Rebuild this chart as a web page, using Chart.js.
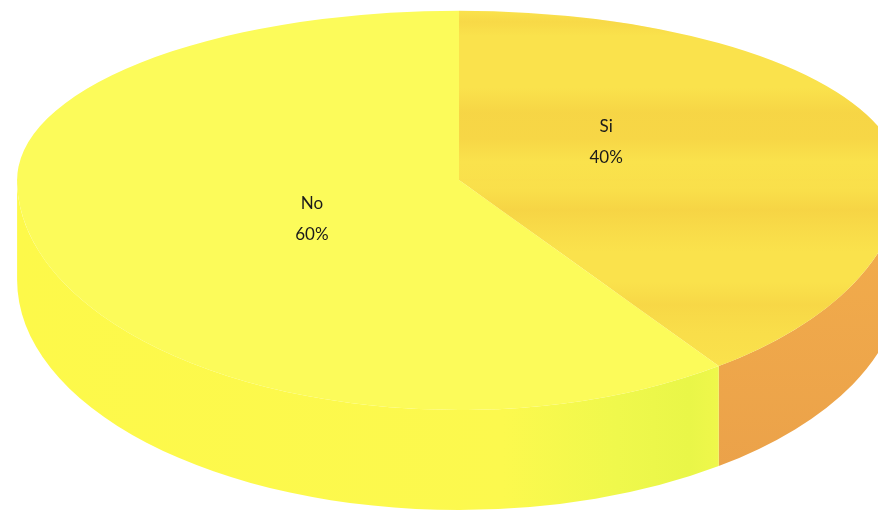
<!DOCTYPE html>
<html>
<head>
<meta charset="utf-8">
<script src="https://cdn.jsdelivr.net/npm/chart.js@4.4.1/dist/chart.umd.min.js"></script>
<style>
  html, body { margin: 0; padding: 0; background: #ffffff; }
  #wrap { width: 878px; height: 517px; position: relative; }
</style>
</head>
<body>
<div id="wrap"><canvas id="pie" width="878" height="517"></canvas></div>
<script>
// Answers to the survey question
const categories = ['Si', 'No'];
const shares = [40, 60];

const total = shares.reduce((a, b) => a + b, 0);
const pctLabels = shares.map(v => Math.round(v / total * 100) + '%');

// Face colours of each slice
const topColors = ['#fae24c', '#fcfb5a'];

// Oblique view of the disc: horizontal stretch, squash of the far and near halves,
// thickness of the wall, and where the two-line labels sit along each slice's middle
const view = { stretchX: 2.455, farY: 0.94, nearY: 1.278, depth: 100, labelAt: 0.35, labelTiltY: 2.0 };

function geometry(chart) {
  const arcs = chart.getDatasetMeta(0).data;
  const { x: cx, y: cy, outerRadius: R } = arcs[0];
  return {
    arcs, cx, cy, R,
    rx: R * view.stretchX,
    ryFar: R * view.farY,
    ryNear: R * view.nearY,
    depth: view.depth
  };
}

function wallFill(ctx, g, i) {
  if (i === 0) {
    const gr = ctx.createLinearGradient(0, g.cy, 0, g.cy + g.ryNear + g.depth);
    gr.addColorStop(0, '#f3ae4c');
    gr.addColorStop(1, '#eaa049');
    return gr;
  }
  const gr = ctx.createLinearGradient(g.cx - g.rx, 0, g.cx + g.rx, 0);
  gr.addColorStop(0.00, '#fdf94a');
  gr.addColorStop(0.55, '#fcf94e');
  gr.addColorStop(0.68, '#eff84c');
  gr.addColorStop(0.76, '#e9f648');
  gr.addColorStop(0.83, '#f5f94e');
  gr.addColorStop(1.00, '#fdf94a');
  return gr;
}

const disc3d = {
  id: 'disc3d',
  beforeDatasetsDraw(chart) {
    const ctx = chart.ctx;
    const g = geometry(chart);
    const TAU = Math.PI * 2;

    // front walls: only the part of each slice facing the viewer (angles 0..PI)
    g.arcs.forEach((arc, i) => {
      for (let k = -1; k <= 1; k++) {
        const lo = Math.max(arc.startAngle, TAU * k);
        const hi = Math.min(arc.endAngle, TAU * k + Math.PI);
        if (hi <= lo) continue;
        ctx.save();
        ctx.beginPath();
        ctx.ellipse(g.cx, g.cy, g.rx, g.ryNear, 0, lo, hi, false);
        ctx.ellipse(g.cx, g.cy + g.depth, g.rx, g.ryNear, 0, hi, lo, true);
        ctx.closePath();
        ctx.fillStyle = wallFill(ctx, g, i);
        ctx.fill();
        ctx.restore();
      }
    });

    // top faces: the slices themselves, seen obliquely (far half and near half)
    const halves = [
      [0, g.cy + 0.5, view.farY],
      [g.cy - 0.5, chart.height, view.nearY]
    ];
    halves.forEach(([y0, y1, sy]) => {
      ctx.save();
      ctx.beginPath();
      ctx.rect(0, y0, chart.width, y1 - y0);
      ctx.clip();
      ctx.translate(g.cx, g.cy);
      ctx.scale(view.stretchX, sy);
      ctx.translate(-g.cx, -g.cy);
      g.arcs.forEach(a => a.draw(ctx));
      ctx.restore();
    });

    // soft banding across the face of the first slice
    const si = g.arcs[0];
    const top = g.cy - g.ryFar, bottom = g.cy + g.ryNear;
    const span = bottom - top;
    const band = ctx.createLinearGradient(0, top, 0, bottom);
    const stops = [
      [10, 0.0], [22, 0.3], [36, 0.0], [88, 0.0], [112, 0.42], [138, 0.38], [162, 0.0],
      [188, 0.08], [210, 0.45], [232, 0.2], [252, 0.0], [282, 0.0], [305, 0.35], [330, 0.15], [370, 0.0]
    ];
    stops.forEach(([y, a]) => band.addColorStop(Math.min(1, Math.max(0, (y - top) / span)), 'rgba(242,196,60,' + a + ')'));
    [[top - 1, g.cy + 0.5, g.ryFar], [g.cy - 0.5, bottom + 1, g.ryNear]].forEach(([y0, y1, ry]) => {
      ctx.save();
      ctx.beginPath();
      ctx.rect(0, y0, chart.width, y1 - y0);
      ctx.clip();
      ctx.beginPath();
      ctx.moveTo(g.cx, g.cy);
      ctx.ellipse(g.cx, g.cy, g.rx, ry, 0, si.startAngle, si.endAngle, false);
      ctx.closePath();
      ctx.fillStyle = band;
      ctx.fill();
      ctx.restore();
    });
    return false;
  },
  afterDraw(chart) {
    const ctx = chart.ctx;
    const g = geometry(chart);
    ctx.save();
    ctx.fillStyle = '#1a1a1a';
    ctx.font = '17px Lato, "Open Sans", sans-serif';
    ctx.textAlign = 'center';
    ctx.textBaseline = 'middle';
    g.arcs.forEach((arc, i) => {
      const m = (arc.startAngle + arc.endAngle) / 2;
      const x = g.cx + Math.cos(m) * g.R * view.labelAt * view.stretchX;
      const y = g.cy + Math.sin(m) * g.R * view.labelAt * view.labelTiltY;
      ctx.fillText(categories[i], x, y - 15);
      ctx.fillText(pctLabels[i], x, y + 16);
    });
    ctx.restore();
  }
};

new Chart(document.getElementById('pie'), {
  type: 'pie',
  data: {
    labels: categories,
    datasets: [{
      data: shares,
      backgroundColor: topColors,
      borderWidth: 0
    }]
  },
  options: {
    responsive: false,
    animation: false,
    layout: { padding: { left: 40, right: 0, top: 0, bottom: 157 } },
    plugins: {
      legend: { display: false },
      tooltip: { enabled: false }
    }
  },
  plugins: [disc3d]
});
</script>
</body>
</html>
